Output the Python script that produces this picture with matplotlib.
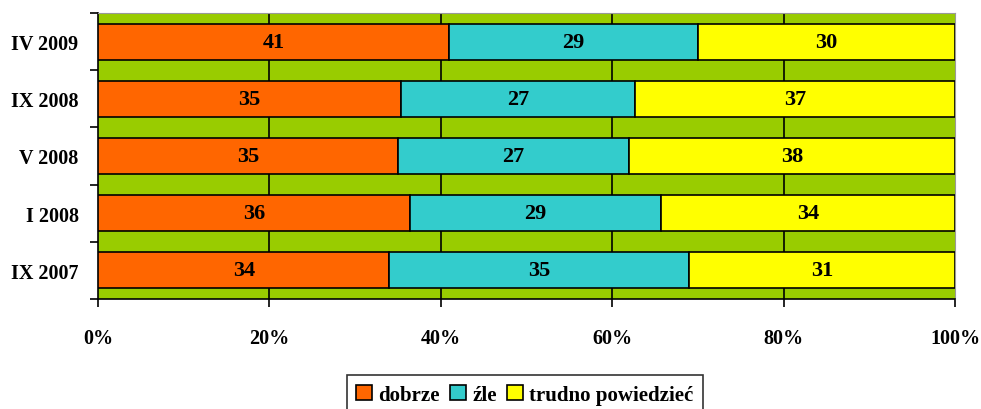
import numpy as np
import matplotlib.pyplot as plt
from matplotlib.ticker import FixedLocator

# data, top row first
periods = ["IV 2009", "IX 2008", "V 2008", "I 2008", "IX 2007"]
dobrze = [41, 35, 35, 36, 34]
zle = [29, 27, 27, 29, 35]
trudno = [30, 37, 38, 34, 31]
series_names = ["dobrze", "\u017ale", "trudno powiedzie\u0107"]
colors = ["#ff6600", "#33cccc", "#ffff00"]
xticks = [0, 20, 40, 60, 80, 100]

plt.rcParams['font.family'] = ['Liberation Serif', 'DejaVu Serif']
plt.rcParams['font.weight'] = 'bold'
plt.rcParams['font.size'] = 14

fig = plt.figure(figsize=(9.81, 4.1), dpi=100)
ax = fig.add_axes([0.0999, 0.2683, 0.8736, 0.6976])
ax.set_facecolor("#99cc00")

vals = np.array([dobrze, zle, trudno], dtype=float)
pct = vals / vals.sum(axis=0) * 100
y = np.arange(len(periods))[::-1]

left = np.zeros(len(periods))
for i in range(3):
    ax.barh(y, pct[i], left=left, height=0.63, color=colors[i],
            edgecolor="black", linewidth=1.2, label=series_names[i], zorder=3)
    for j in range(len(periods)):
        ax.text(left[j] + pct[i][j] / 2, y[j], str(int(vals[i][j])),
                ha="center", va="center", fontsize=16, fontweight="bold", zorder=4)
    left = left + pct[i]

ax.set_xlim(0, 100)
ax.set_ylim(-0.5, len(periods) - 0.5)
ax.set_xticks(xticks)
ax.set_xticklabels([str(t) + "%" for t in xticks])
for t in xticks[1:-1]:
    ax.axvline(t, color="black", linewidth=1.2, zorder=1)

ax.set_yticks(y)
ax.set_yticklabels(periods, fontsize=14.5)
ax.yaxis.set_minor_locator(FixedLocator(np.arange(-0.5, len(periods), 1.0)))
ax.tick_params(axis="y", which="major", length=0, pad=14)
ax.tick_params(axis="y", which="minor", length=6, width=1.2, direction="out")
ax.tick_params(axis="x", length=6, width=1.2, direction="out", pad=15, labelsize=14.5)

for s in ["top", "right"]:
    ax.spines[s].set_color("#999999")
for s in ["left", "bottom"]:
    ax.spines[s].set_linewidth(1.2)

leg = fig.legend(loc="upper center", bbox_to_anchor=(0.535, 0.108), ncol=3,
                 frameon=True, fancybox=False, edgecolor="black",
                 handlelength=0.75, handleheight=0.75, handletextpad=0.3,
                 columnspacing=0.5, borderpad=0.45, fontsize=15)
leg.get_frame().set_linewidth(1.2)

fig.savefig("out.png", dpi=100)
